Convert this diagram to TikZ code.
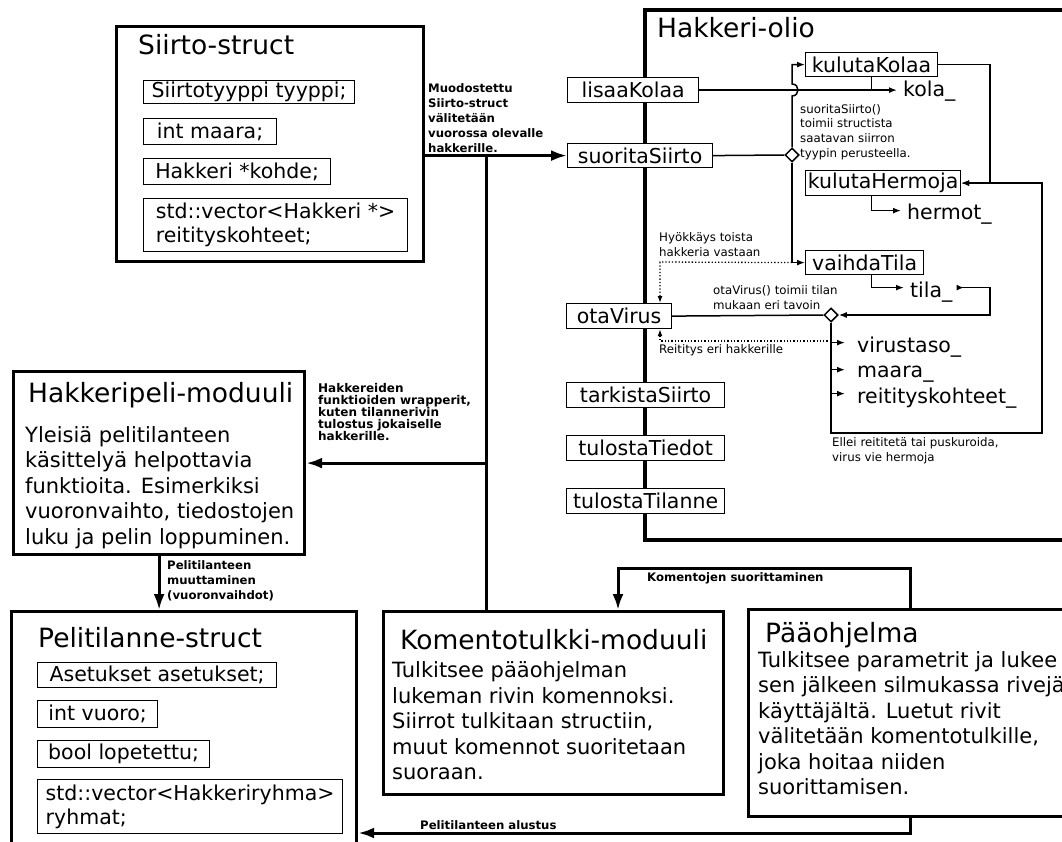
\documentclass[tikz,border=0pt]{standalone}
\usepackage{fontspec}
\setmainfont{DejaVu Sans}
\usetikzlibrary{arrows.meta,shapes.geometric}

\begin{document}
\begin{tikzpicture}[x=1pt,y=-1pt,
    box/.style={draw, line width=3.2pt, inner sep=0pt, anchor=north west},
    field/.style={draw, line width=1.2pt, fill=white, inner sep=0pt, anchor=north west, align=left, font=\fontsize{20.5}{24}\selectfont},
    title/.style={anchor=west, inner sep=0pt, font=\fontsize{26.5}{31}\selectfont},
    body/.style={anchor=west, inner sep=0pt, align=left, font=\fontsize{21}{25.5}\selectfont},
    var/.style={anchor=base west, inner sep=0pt, font=\fontsize{20.5}{24}\selectfont},
    note/.style={anchor=west, inner sep=0pt, align=left, font=\fontsize{11.8}{14.6}\selectfont},
    bnote/.style={anchor=west, inner sep=0pt, align=left, font=\fontsize{11.7}{15}\selectfont\bfseries},
    bigline/.style={line width=3pt},
    bigarrow/.style={line width=3pt, -{Latex[length=16pt,width=11pt]}},
    wire/.style={line width=1.5pt},
    smallarrow/.style={line width=1.5pt, -{Latex[length=8pt,width=6pt]}},
    dotarrow/.style={line width=1.3pt, dotted, -{Latex[length=7pt,width=5pt]}},
    junction/.style={diamond, draw, line width=1.5pt, fill=white, minimum size=14pt, inner sep=0pt}]

    \fill[white] (0,0) rectangle (1062,842);
    \useasboundingbox (0,0) rectangle (1062,842);

    % Siirto-struct
    \node[box, minimum width=307pt, minimum height=235pt] (siirto) at (115,25) {};
    \node[title] (siirtot) at (138,45) {Siirto-struct};
    \node[field, minimum width=211pt, minimum height=23pt] (f1) at (143,80) {Siirtotyyppi tyyppi;};
    \node[field, minimum width=133pt, minimum height=26pt] (f2) at (143,118) {int maara;};
    \node[field, minimum width=187pt, minimum height=26pt] (f3) at (143,158) {Hakkeri *kohde;};
    \node[field, minimum width=264pt, minimum height=53pt] (f4) at (143,198) {std::vector<Hakkeri *>\\reitityskohteet;};

    % Hakkeri-olio
    \draw[line width=3.2pt] (1080,10) -- (645,10) -- (645,540) -- (1080,540);
    \node[title] (olio) at (657,28) {Hakkeri-olio};
    \node[field, minimum width=131pt, minimum height=25pt] (lisaa) at (567,77) {lisaaKolaa};
    \node[field, minimum width=145pt, minimum height=24pt] (suorita) at (567,143) {suoritaSiirto};
    \node[field, minimum width=132pt, minimum height=24pt] (kulutaK) at (805,52) {kulutaKolaa};
    \node[field, minimum width=155pt, minimum height=25pt] (kulutaH) at (805,170) {kulutaHermoja};
    \node[field, minimum width=118pt, minimum height=24pt] (vaihda) at (805,250) {vaihdaTila};
    \node[field, minimum width=105pt, minimum height=25pt] (otavirus) at (566,303) {otaVirus};
    \node[field, minimum width=158pt, minimum height=25pt] (tarkista) at (566,382) {tarkistaSiirto};
    \node[field, minimum width=158pt, minimum height=25pt] (tiedot) at (566,435) {tulostaTiedot};
    \node[field, minimum width=158pt, minimum height=25pt] (tilanne) at (566,488) {tulostaTilanne};

    % jasenmuuttujat
    \node[var] (kola) at (903,97) {kola\_};
    \node[var] (hermot) at (907,220) {hermot\_};
    \node[var] (tila) at (910,297) {tila\_};
    \node[var] (virus) at (857,352) {virustaso\_};
    \node[var] (maara) at (857,377) {maara\_};
    \node[var] (reit) at (857,403) {reitityskohteet\_};

    \node[junction] (dia1) at (792,155) {};
    \node[junction] (dia2) at (831,315) {};

    % kola
    \draw[smallarrow, shorten >=6pt] (lisaa.east) -- (lisaa.east -| kola.west);
    \draw[wire] (kulutaK.south) -- (kulutaK.south |- lisaa.east);
    % suoritaSiirto haarautuu
    \coordinate (hop) at (792,90);
    \draw[wire] (suorita.east) -- (dia1.west);
    \draw[smallarrow] (dia1.north) -- ([yshift=-6pt]hop) .. controls ([xshift=8pt,yshift=-6pt]hop) and ([xshift=8pt,yshift=6pt]hop) .. ([yshift=6pt]hop) |- (kulutaK.west);
    \draw[smallarrow] (dia1.south) |- (vaihda.west);
    % hermot
    \coordinate (kk) at (990,64);
    \draw[smallarrow] (kulutaK.east) -| (kk |- kulutaH.east) -- (kulutaH.east);
    \draw[smallarrow, shorten >=6pt] (kulutaH.south -| kulutaK.south) |- ([yshift=4pt]hermot.west);
    % tila
    \draw[smallarrow, shorten >=6pt] (vaihda.south -| kulutaK.south) |- ([yshift=4pt]tila.west);
    \coordinate (tt) at (990,315);
    \draw[wire, {Latex[reversed,length=7pt,width=6pt]}-{Latex[length=8pt,width=6pt]}] ([xshift=4pt,yshift=4pt]tila.east) -| (tt) -- (dia2.east);
    % otaVirus
    \draw[wire] (otavirus.east) -- (dia2.west);
    \foreach \v in {virus,maara,reit}
        \draw[wire, {Latex[length=8pt,width=6pt]}-, shorten <=12pt] ([yshift=4pt]\v.west) -- +(-26pt,0);
    \coordinate (hh) at (1042,433);
    \draw[smallarrow] (dia2.south) |- (hh) |- (kulutaH.east);
    % toiset hakkerit
    \coordinate (hy) at (660,262);
    \draw[dotarrow] (dia1.south |- vaihda.west) -- (hy) -- (hy |- otavirus.north);
    \coordinate (re) at (660,341);
    \draw[dotarrow] (dia2.south |- re) -- (re) -- (re |- otavirus.south);

    \node[note] at (800,132) {suoritaSiirto()\\toimii structista\\saatavan siirron\\tyypin perusteella.};
    \node[note] at (659,244.5) {Hyökkäys toista\\hakkeria vastaan};
    \node[note] at (713,297.5) {otaVirus() toimii tilan\\mukaan eri tavoin};
    \node[note] at (659,350) {Reititys eri hakkerille};
    \node[note] at (832,450.5) {Ellei reititetä tai puskuroida,\\virus vie hermoja};

    % Hakkeripeli-moduuli
    \node[box, minimum width=291pt, minimum height=183pt] (peli) at (12,370) {};
    \node[title] at (28,395) {Hakkeripeli-moduuli};
    \node[body] at (25,487.5) {Yleisiä pelitilanteen\\käsittelyä helpottavia\\funktioita. Esimerkiksi\\vuoronvaihto, tiedostojen\\luku ja pelin loppuminen.};

    % Pelitilanne-struct
    \node[box, minimum width=345pt, minimum height=270pt] (pelit) at (10,610) {};
    \node[title] at (38,638) {Pelitilanne-struct};
    \node[field, minimum width=239pt, minimum height=25pt] (g1) at (37,662) {Asetukset asetukset;};
    \node[field, minimum width=120pt, minimum height=27pt] (g2) at (37,700) {int vuoro;};
    \node[field, minimum width=172pt, minimum height=27pt] (g3) at (37,740) {bool lopetettu;};
    \node[field, minimum width=305pt, minimum height=54pt] (g4) at (37,779) {std::vector<Hakkeriryhma>\\ryhmat;};

    % Komentotulkki-moduuli
    \node[box, minimum width=340pt, minimum height=183pt] (komento) at (382,610) {};
    \node[title] at (400,640) {Komentotulkki-moduuli};
    \node[body] at (392,721) {Tulkitsee pääohjelman\\lukeman rivin komennoksi.\\Siirrot tulkitaan structiin,\\muut komennot suoritetaan\\suoraan.};

    % Paaohjelma
    \node[box, minimum width=340pt, minimum height=207pt] (paa) at (747,608) {};
    \node[title] at (765,635) {Pääohjelma};
    \node[body] at (758,723) {Tulkitsee parametrit ja lukee\\sen jälkeen silmukassa rivejä\\käyttäjältä. Luetut rivit\\välitetään komentotulkille,\\joka hoitaa niiden\\suorittamisen.};

    % moduulien valiset yhteydet
    \coordinate (bus) at (486,155);
    \draw[bigarrow] (siirto.east |- suorita.west) -- (suorita.west);
    \draw[bigline] (bus) -- (bus |- komento.north);
    \draw[bigarrow] (bus |- peli.east) -- (peli.east);
    \draw[bigarrow] (peli.south) -- (peli.south |- pelit.north);
    \coordinate (k1) at (910,568);
    \coordinate (kom) at (618,568);
    \draw[bigarrow] (paa.north -| k1) -- (k1) -- (kom) -- (kom |- komento.north);
    \coordinate (a1) at (910,833);
    \draw[bigarrow] (paa.south -| a1) -- (a1) -- (a1 -| pelit.east);

    \node[bnote] at (428,118) {Muodostettu\\Siirto-struct\\välitetään\\vuorossa olevalle\\hakkerille.};
    \node[bnote, font=\fontsize{12}{12}\selectfont\bfseries] at (318,412) {Hakkereiden\\funktioiden wrapperit,\\kuten tilannerivin\\tulostus jokaiselle\\hakkerille.};
    \node[bnote] at (167,581) {Pelitilanteen\\muuttaminen\\(vuoronvaihdot)};
    \node[bnote] at (647,578) {Komentojen suorittaminen};
    \node[bnote] at (420,825) {Pelitilanteen alustus};
\end{tikzpicture}
\end{document}
